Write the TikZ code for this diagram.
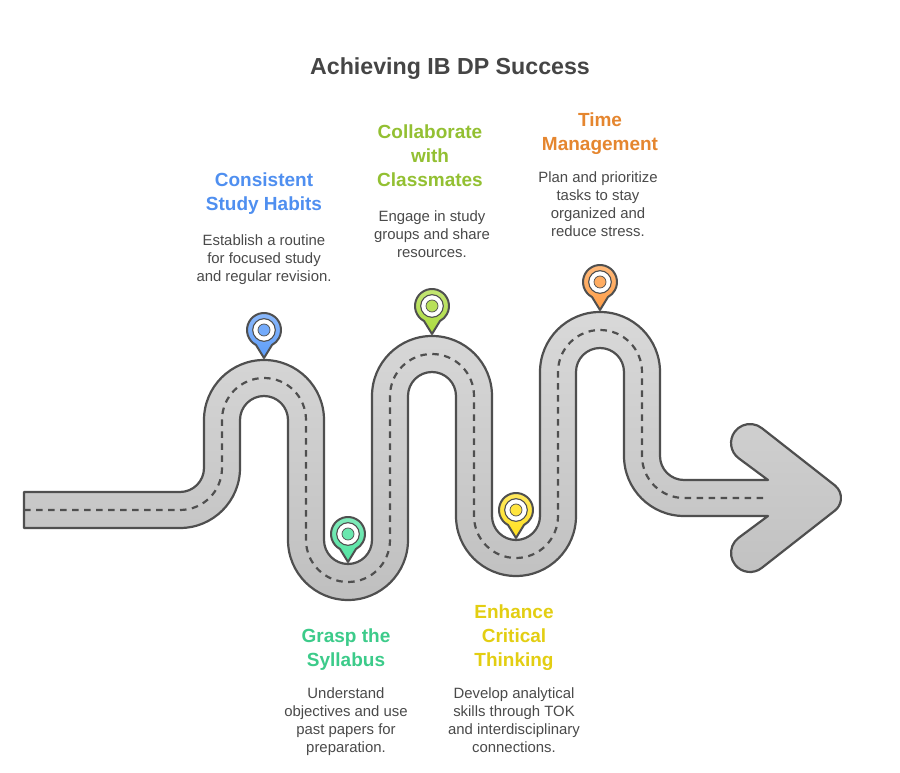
\documentclass[tikz,border=0pt]{standalone}
\usepackage{fontspec}
\setmainfont{Liberation Sans}
\definecolor{ink}{HTML}{4F4F4F}
\definecolor{titleink}{HTML}{454545}
\definecolor{bodyink}{HTML}{4A4A4A}
\definecolor{cblue}{HTML}{4F8FF0}
\definecolor{cgreen}{HTML}{3CCB8A}
\definecolor{clime}{HTML}{93C032}
\definecolor{cyellow}{HTML}{E3CE12}
\definecolor{corange}{HTML}{E5862F}
\definecolor{pblue}{HTML}{5C9CFA}
\definecolor{pgreen}{HTML}{4FE3A0}
\definecolor{plime}{HTML}{ABDB3C}
\definecolor{pyellow}{HTML}{FFE01E}
\definecolor{porange}{HTML}{FF9D45}
\tikzset{
  headtext/.style={font=\bfseries\fontsize{19}{24}\selectfont,align=center,inner sep=0pt,anchor=north},
  bodytext/.style={font=\fontsize{14.9}{18}\selectfont,align=center,inner sep=0pt,anchor=north,text=bodyink},
  roadline/.style={draw=ink,line width=2.2pt,line join=round},
  pinmark/.pic={
    \path[roadline,line width=2pt,top color=#1!70!white,bottom color=#1]
      (-118:17) arc (-118:-422:17) -- (0,-28) -- cycle;
    \path[draw=ink,line width=1.1pt,fill=white] (0,0) circle (11.3);
    \path[draw=ink,line width=.7pt,fill=#1!85!white] (0,0) circle (6);
  }
}
\begin{document}
\begin{tikzpicture}[x=1pt,y=1pt]
\path[use as bounding box,fill=white] (0,0) rectangle (900,772);
% road outline
\path[roadline,top color=black!15,bottom color=black!25]
 (24,280) -- (180,280) arc (-90:0:24) -- (204,352) arc (180:0:60) -- (324,232)
 arc (180:360:24) -- (372,376) arc (180:0:60) -- (492,256)
 arc (180:360:24) -- (540,400) arc (180:0:60) -- (660,316)
 arc (180:270:24) -- (768,292) -- (738.6,313.8)
 arc (233:51.8:19) -- (834.9,286.57) arc (51.8:-51.8:16) -- (761.75,204.07)
 arc (-51.8:-233:19) -- (768,256) -- (684,256)
 arc (270:180:60) -- (624,400) arc (0:180:24) -- (576,256)
 arc (360:180:60) -- (456,376) arc (0:180:24) -- (408,232)
 arc (360:180:60) -- (288,352) arc (0:180:24) -- (240,304)
 arc (0:-90:60) -- (24,244) -- cycle;
% centre line
\draw[ink,line width=2.2pt,dash pattern=on 6.5pt off 5.5pt]
 (24,262) -- (180,262) arc (-90:0:42) -- (222,352) arc (180:0:42) -- (306,232)
 arc (180:360:42) -- (390,376) arc (180:0:42) -- (474,256)
 arc (180:360:42) -- (558,400) arc (180:0:42) -- (642,316)
 arc (180:270:42) -- (765,274);
% pins
\pic at (264,442) {pinmark=pblue};
\pic at (348,238) {pinmark=pgreen};
\pic at (432,466) {pinmark=plime};
\pic at (516,262) {pinmark=pyellow};
\pic at (600,490) {pinmark=porange};
% text
\node[font=\bfseries\fontsize{23.2}{28}\selectfont,text=titleink,inner sep=0pt] (title) at (450,703) {Achieving IB DP Success};
\node[headtext,text=cblue] (h1) at (264,599) {Consistent\\Study Habits};
\node[bodytext] (b1) at (264,537.5) {Establish a routine\\for focused study\\and regular revision.};
\node[headtext,text=cgreen] (h2) at (346,143) {Grasp the\\Syllabus};
\node[bodytext] (b2) at (346,84.5) {Understand\\objectives and use\\past papers for\\preparation.};
\node[headtext,text=clime] (h3) at (430,647) {Collaborate\\with\\Classmates};
\node[bodytext] (b3) at (432,561.5) {Engage in study\\groups and share\\resources.};
\node[headtext,text=cyellow] (h4) at (514,167) {Enhance\\Critical\\Thinking};
\node[bodytext] (b4) at (514,84.5) {Develop analytical\\skills through TOK\\and interdisciplinary\\connections.};
\node[headtext,text=corange] (h5) at (600,659) {Time\\Management};
\node[bodytext] (b5) at (598,600.5) {Plan and prioritize\\tasks to stay\\organized and\\reduce stress.};
\end{tikzpicture}
\end{document}
